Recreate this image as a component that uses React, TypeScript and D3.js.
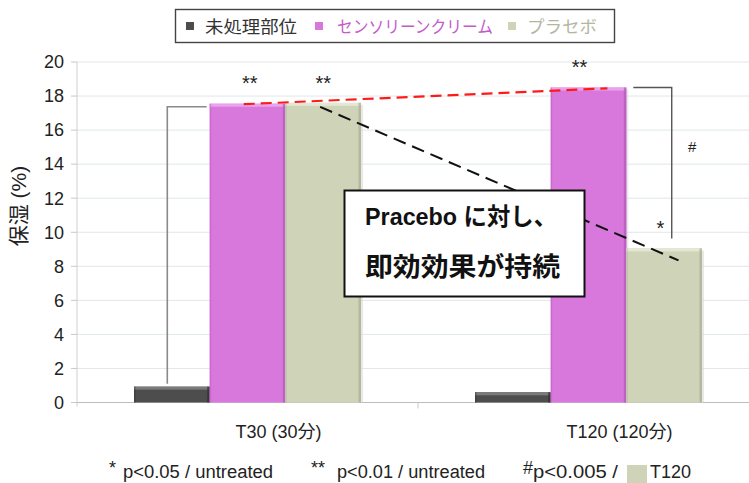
import React from "react";
import * as d3 from "d3";

const categories = ["T30 (30分)", "T120 (120分)"];
const seriesNames = ["未処理部位", "センソリーンクリーム", "プラセボ"];
const untreated = [0.93, 0.6];
const sensoryCream = [17.55, 18.5];
const placebo = [17.6, 9.05];
const yTicks = [0, 2, 4, 6, 8, 10, 12, 14, 16, 18, 20];
const seriesColors = ["#4d4d4d", "#d877dc", "#cfd4b8"];
const seriesEdge = ["#2e2e2e", "#b259b6", "#a9ae93"];
const seriesLight = ["#7a7a7a", "#e9a3ec", "#e3e7d3"];
const legendTextColors = ["#333333", "#c35bc9", "#b3b7a2"];
const calloutLines = ["Pracebo に対し、", "即効効果が持続"];
const footnotes = [
  { mark: "*", text: "p<0.05 / untreated" },
  { mark: "**", text: "p<0.01 / untreated" },
  { mark: "#", text: "p<0.005 /" },
];

if (typeof document !== "undefined") {
  document.body.style.margin = "0";
}

const FONT = "'Liberation Sans', Arial, 'Noto Sans CJK JP', sans-serif";

export default function App() {
  const W = 749;
  const H = 483;
  const plotLeft = 77;
  const plotRight = 759;
  const y = d3.scaleLinear().domain([0, 20]).range([402.5, 62]);
  const x0 = d3.scaleBand<string>().domain(categories).range([plotLeft, plotRight]).padding(0);
  const x1 = d3.scaleBand<string>().domain(seriesNames).range([57, 284]).padding(0);
  const data = [untreated, sensoryCream, placebo];

  const barX = (ci: number, si: number) => (x0(categories[ci]) as number) + (x1(seriesNames[si]) as number);
  const bw = x1.bandwidth();

  return (
    <svg width={W} height={H} style={{ display: "block", background: "#fff" }} fontFamily={FONT}>
      <rect x={0} y={0} width={W} height={H} fill="#fff" />
      {/* gridlines */}
      {yTicks.map((t) => (
        <g key={t}>
          {t !== 0 && (
            <line x1={plotLeft} x2={W} y1={y(t)} y2={y(t)} stroke="#dfe7ea" strokeWidth={1} />
          )}
          <line x1={plotLeft - 6} x2={plotLeft} y1={y(t)} y2={y(t)} stroke="#c8c8c8" strokeWidth={1} />
          <text x={64} y={y(t)} dy="0.35em" textAnchor="end" fontSize={18} fill="#222">
            {t}
          </text>
        </g>
      ))}
      {/* axes */}
      <line x1={plotLeft} x2={plotLeft} y1={y(20)} y2={y(0) + 4} stroke="#cfcfcf" strokeWidth={1} />
      <line x1={plotLeft} x2={W} y1={y(0)} y2={y(0)} stroke="#bdbdbd" strokeWidth={1.2} />
      <line x1={x0(categories[1]) as number} x2={x0(categories[1]) as number} y1={y(0)} y2={y(0) + 6} stroke="#c8c8c8" />

      {/* y axis label */}
      <text
        transform={`translate(26, 206) rotate(-90)`}
        textAnchor="middle"
        fontSize={21}
        fill="#222"
      >
        保湿 (%)
      </text>

      {/* bars */}
      {categories.map((c, ci) =>
        data.map((vals, si) => {
          const bx = barX(ci, si);
          const by = y(vals[ci]);
          const bh = y(0) - by;
          return (
            <g key={`${ci}-${si}`}>
              <rect x={bx + 2} y={by + 2} width={bw} height={bh - 2} fill="#d9d9d9" opacity={0.6} />
              <rect x={bx} y={by} width={bw} height={bh} fill={seriesColors[si]} />
              <rect x={bx} y={by} width={bw} height={Math.min(3, bh)} fill={seriesLight[si]} />
              <rect x={bx + bw - 2.5} y={by} width={2.5} height={bh} fill={seriesEdge[si]} opacity={0.7} />
              <rect x={bx} y={by} width={1.5} height={bh} fill={seriesEdge[si]} opacity={0.4} />
            </g>
          );
        })
      )}

      {/* category labels */}
      {categories.map((c) => (
        <text
          key={c}
          x={(x0(c) as number) + x0.bandwidth() / 2 + 31}
          y={438}
          textAnchor="middle"
          fontSize={18}
          fill="#222"
        >
          {c}
        </text>
      ))}

      {/* bracket group 1 */}
      <path
        d={`M${barX(0, 0) + bw * 0.44},${y(untreated[0]) - 3} V${y(sensoryCream[0]) + 3} H${barX(0, 1) - 3}`}
        fill="none"
        stroke="#8a8a8a"
        strokeWidth={1.6}
      />
      {/* bracket group 2 */}
      <path
        d={`M${barX(1, 1) + bw + 7},${y(sensoryCream[1])} H${barX(1, 2) + bw * 0.6} V${y(placebo[1]) - 10}`}
        fill="none"
        stroke="#555"
        strokeWidth={1.4}
      />

      {/* significance marks */}
      <text x={barX(0, 1) + bw * 0.53} y={90} textAnchor="middle" fontSize={20} fill="#222">**</text>
      <text x={barX(0, 2) + bw * 0.5} y={90} textAnchor="middle" fontSize={20} fill="#222">**</text>
      <text x={barX(1, 1) + bw * 0.38} y={74} textAnchor="middle" fontSize={20} fill="#222">**</text>
      <text x={barX(1, 2) + bw * 0.45} y={235} textAnchor="middle" fontSize={20} fill="#222">*</text>
      <text x={barX(1, 2) + bw * 0.87} y={152} textAnchor="middle" fontSize={15} fill="#222">#</text>

      {/* red dashed line */}
      <line
        x1={barX(0, 1) + bw * 0.45}
        y1={y(sensoryCream[0]) + 0.5}
        x2={barX(1, 1) + bw * 0.75}
        y2={y(sensoryCream[1]) + 0.8}
        stroke="#ff1a1a"
        strokeWidth={2.2}
        strokeDasharray="11,6"
      />
      {/* black dashed line */}
      <line
        x1={barX(0, 2) + bw * 0.46}
        y1={y(placebo[0]) + 4}
        x2={barX(1, 2) + bw * 0.69}
        y2={y(placebo[1]) + 12}
        stroke="#111"
        strokeWidth={2}
        strokeDasharray="13,7"
      />

      {/* callout */}
      <rect x={344.5} y={190.5} width={240} height={106} fill="#fff" stroke="#111" strokeWidth={2} />
      <text x={365} y={225} fontSize={24} fontWeight="bold" fill="#111" textLength={192} lengthAdjust="spacingAndGlyphs">
        {calloutLines[0]}
      </text>
      <text x={365} y={276} fontSize={26} fontWeight="bold" fill="#111" textLength={195} lengthAdjust="spacingAndGlyphs">
        {calloutLines[1]}
      </text>

      {/* legend */}
      <rect x={175.5} y={9.5} width={439} height={33} fill="#fff" stroke="#444" strokeWidth={1.4} />
      {seriesNames.map((s, i) => {
        const sx = [186, 315, 508][i];
        const tx = [205, 337, 527][i];
        const tw = [92, 156, 70][i];
        return (
          <g key={s}>
            <rect x={sx} y={22} width={8} height={8} fill={seriesColors[i]} />
            <text
              x={tx}
              y={33}
              fontSize={17}
              fill={legendTextColors[i]}
              fontFamily="'Noto Sans CJK JP', sans-serif"
              textLength={tw}
              lengthAdjust="spacingAndGlyphs"
            >
              {s}
            </text>
          </g>
        );
      })}

      {/* footnotes */}
      {footnotes.map((f, i) => {
        const mx = [109, 311, 523][i];
        const tx = [123, 337, 533][i];
        const tw = [150, 148, 85][i];
        return (
          <g key={i}>
            <text x={mx} y={474} fontSize={18} fill="#222">{f.mark}</text>
            <text x={tx} y={478} fontSize={18} fill="#222" textLength={tw} lengthAdjust="spacingAndGlyphs">
              {f.text}
            </text>
          </g>
        );
      })}
      <rect x={627} y={465} width={20} height={18} fill={seriesColors[2]} />
      <text x={650} y={478} fontSize={18} fill="#222">T120</text>
    </svg>
  );
}
